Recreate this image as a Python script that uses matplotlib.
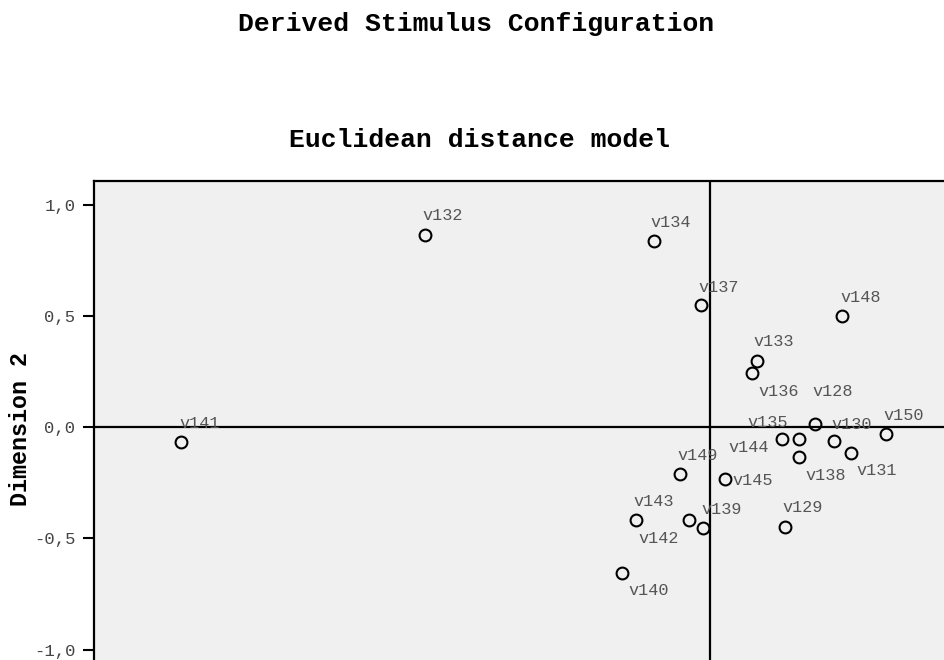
import matplotlib.pyplot as plt

# Stimulus coordinates
labels = ["v141", "v132", "v134", "v137", "v148", "v133", "v136", "v128",
          "v135", "v144", "v130", "v150", "v131", "v138", "v145", "v149",
          "v143", "v142", "v139", "v129", "v140"]
dim1 = [-2.380, -1.282, -0.255, -0.044, 0.593, 0.209, 0.189, 0.469,
        0.320, 0.398, 0.555, 0.788, 0.631, 0.398, 0.065, -0.138,
        -0.335, -0.095, -0.033, 0.335, -0.398]
dim2 = [-0.067, 0.866, 0.838, 0.550, 0.499, 0.299, 0.246, 0.015,
        -0.051, -0.051, -0.063, -0.032, -0.114, -0.135, -0.232, -0.212,
        -0.416, -0.416, -0.452, -0.448, -0.654]
yticks = [1.0, 0.5, 0.0, -0.5, -1.0]
ytick_labels = ["1,0", "0,5", "0,0", "-0,5", "-1,0"]

# label offsets (pixels, x right / y up) so the names sit like SPSS put them
offsets = [(-2, 19), (-3, 19), (-3, 19), (-2, 18), (-2, 19), (-3, 19), (6, -19), (-2, 32),
           (-34, 16), (-70, -9), (-2, 17), (-2, 19), (6, -18), (7, -18), (8, -2), (-2, 19),
           (-2, 18), (-51, -19), (-2, 18), (-2, 19), (7, -18)]

mono = "Liberation Mono"
W, H = 944, 660

fig = plt.figure(figsize=(W / 100, H / 100), dpi=100)

# axes deliberately run past the right and bottom edge (cropped like the source)
px_per_unit = 222.3
x_left, x_right = -2.775, 1.3
y_top, y_bottom = 1.108, -1.25
ax_left = 93.5
ax_top = 181
ax_w = (x_right - x_left) * px_per_unit
ax_h = (y_top - y_bottom) * px_per_unit
ax = fig.add_axes([ax_left / W, 1 - (ax_top + ax_h) / H, ax_w / W, ax_h / H])
ax.set_facecolor("#f0f0f0")
ax.set_xlim(x_left, x_right)
ax.set_ylim(y_bottom, y_top)

ax.axhline(0, color="black", lw=1.6, zorder=1)
ax.axvline(0, color="black", lw=1.6, zorder=1)

ax.plot(dim1, dim2, "o", ms=8.5, mfc="none", mec="black", mew=1.5, zorder=3)
for name, x, y, (dx, dy) in zip(labels, dim1, dim2, offsets):
    ax.annotate(name, (x, y), xytext=(dx, dy), textcoords="offset pixels",
                ha="left", va="center", family=mono, fontsize=12.2,
                color="#555555", zorder=2)

ax.set_yticks(yticks)
ax.set_yticklabels(ytick_labels, family=mono, fontsize=12.4, color="#444444")
ax.tick_params(axis="y", direction="out", length=8, width=1.5, color="black", pad=5)
ax.set_xticks([])
for side in ["left", "top", "right", "bottom"]:
    ax.spines[side].set_linewidth(1.6)

fig.text(21 / W, 1 - 429 / H, "Dimension 2", rotation=90, ha="center", va="center",
         family=mono, fontsize=16.8, fontweight="bold")
fig.text(476.5 / W, 1 - 24 / H, "Derived Stimulus Configuration", ha="center", va="center",
         family=mono, fontsize=19, fontweight="bold")
fig.text(479 / W, 1 - 140 / H, "Euclidean distance model", ha="center", va="center",
         family=mono, fontsize=19, fontweight="bold")

fig.savefig("out.png", dpi=100)
